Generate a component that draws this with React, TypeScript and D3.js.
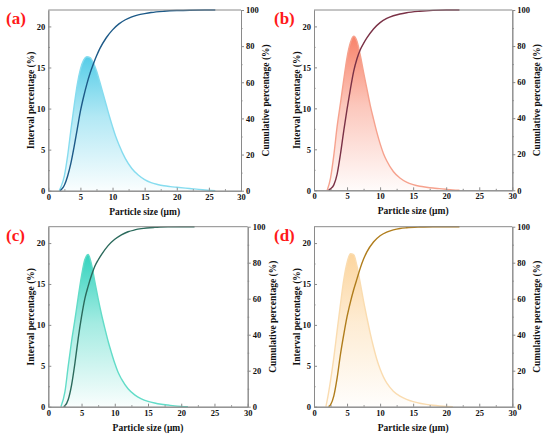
import * as React from 'react';
import * as d3 from 'd3';

type Pt = [number, number];

const panelNames = ['(a)', '(b)', '(c)', '(d)'];
const xTicks = [0, 5, 10, 15, 20, 25, 30];
const xMinor = [2.5, 7.5, 12.5, 17.5, 22.5, 27.5];
const yTicks = [0, 5, 10, 15, 20];
const yMinor = [2.5, 7.5, 12.5, 17.5];
const cumTicks = [0, 20, 40, 60, 80, 100];
const cumMinor = [10, 30, 50, 70, 90];

// interval percentage (%) vs particle size (µm)
const intervalA: Pt[] = [
  [1.7, 0], [2, 0.5], [2.5, 1.8], [3, 4.2], [3.5, 7.3], [4, 10.2], [4.5, 12.9], [5, 14.8],
  [5.5, 15.9], [6, 16.3], [6.5, 16.2], [7, 15.6], [7.5, 14.6], [8, 13.3], [8.5, 11.9],
  [9, 10.5], [9.5, 9.1], [10, 7.8], [10.5, 6.6], [11, 5.6], [12, 3.9], [13, 2.7], [14, 1.9],
  [15, 1.35], [16, 0.98], [17, 0.76], [18, 0.6], [19, 0.5], [20, 0.42], [22, 0.27], [24, 0.12], [26, 0],
];
const intervalB: Pt[] = [
  [2, 0], [2.5, 1.5], [3, 4.3], [3.5, 7.8], [4, 10.6], [4.5, 13.5], [5, 16.2], [5.5, 18.0],
  [6, 18.8], [6.5, 18.2], [7, 16.5], [7.5, 14.4], [8, 12.4], [8.5, 10.4], [9, 8.7], [9.5, 7.1],
  [10, 5.7], [10.5, 4.5], [11, 3.6], [12, 2.3], [13, 1.5], [14, 1.0], [15, 0.7], [16, 0.5],
  [17, 0.38], [18, 0.28], [19, 0.2], [20, 0.12], [21, 0.05], [22, 0],
];
const intervalC: Pt[] = [
  [1.9, 0], [2.5, 1.8], [3, 5.0], [3.5, 8.0], [4, 10.6], [4.5, 13.4], [5, 16.0], [5.5, 18.0],
  [6, 18.6], [6.5, 17.4], [7, 15.3], [7.5, 13.2], [8, 11.3], [8.5, 9.6], [9, 8.0], [9.5, 6.6],
  [10, 5.3], [10.5, 4.2], [11, 3.4], [12, 2.2], [13, 1.45], [14, 0.97], [15, 0.66], [16, 0.45],
  [17, 0.3], [18, 0.2], [19, 0.1], [20, 0.04], [21, 0],
];
const intervalD: Pt[] = [
  [1.8, 0], [2, 0.8], [2.5, 3.2], [3, 6.0], [3.5, 9.3], [4, 12.5], [4.5, 15.5], [5, 17.6],
  [5.5, 18.7], [6, 18.6], [6.5, 17.2], [7, 15.1], [7.5, 12.9], [8, 10.9], [8.5, 9.0], [9, 7.3],
  [9.5, 5.8], [10, 4.6], [10.5, 3.65], [11, 2.9], [12, 1.9], [13, 1.3], [14, 0.9], [15, 0.62],
  [16, 0.42], [17, 0.28], [18, 0.17], [19, 0.09], [20, 0.03], [21, 0],
];

// cumulative percentage (%)
const cumulativeA: Pt[] = [
  [1.8, 0], [2, 0.5], [2.5, 3], [3, 8], [3.5, 15], [4, 24], [4.5, 34], [5, 44], [5.5, 52],
  [6, 59], [6.5, 65], [7, 70], [7.5, 74.5], [8, 78.5], [9, 84.5], [10, 89], [11, 92.3],
  [12, 94.6], [13, 96.2], [14, 97.3], [15, 98], [16, 98.6], [18, 99.3], [20, 99.7], [22, 99.9], [26, 100],
];
const cumulativeB: Pt[] = [
  [2.2, 0], [2.5, 0.8], [3, 3], [3.5, 9], [4, 20], [4.5, 33], [5, 45], [5.5, 56], [6, 66],
  [6.5, 73], [7, 78], [7.5, 81.5], [8, 84.5], [9, 89.5], [10, 93], [11, 95.3], [12, 96.8],
  [13, 97.8], [14, 98.5], [16, 99.3], [18, 99.8], [20, 100], [22, 100],
];
const cumulativeC: Pt[] = [
  [2.3, 0], [2.5, 0.5], [3, 4], [3.5, 12], [4, 24], [4.5, 38], [5, 50], [5.5, 60], [6, 67],
  [6.5, 73], [7, 78], [7.5, 81.5], [8, 84.5], [9, 89.5], [10, 93], [11, 95.5], [12, 97.2],
  [13, 98.2], [14, 98.9], [16, 99.6], [18, 99.9], [20, 100], [22, 100],
];
const cumulativeD: Pt[] = [
  [2.2, 0], [2.5, 1], [3, 6], [3.5, 16], [4, 29], [4.5, 40], [5, 50], [5.5, 58], [6, 65],
  [6.5, 71], [7, 77], [7.5, 82], [8, 86], [9, 91.5], [10, 95], [11, 97], [12, 98.2],
  [13, 99], [14, 99.4], [16, 99.8], [18, 100], [22, 100],
];

const intervals = [intervalA, intervalB, intervalC, intervalD];
const cumulatives = [cumulativeA, cumulativeB, cumulativeC, cumulativeD];

// layout + colours per panel
const boxes = [
  { x0: 48.3, x1: 241, y0: 10, y1: 190.7, lx: 6, ly: 24 },
  { x0: 314, x1: 512.3, y0: 10, y1: 190.3, lx: 274, ly: 24 },
  { x0: 48.3, x1: 247.7, y0: 226.7, y1: 406.7, lx: 6, ly: 241 },
  { x0: 314, x1: 512.3, y0: 226.7, y1: 406.7, lx: 274, ly: 241 },
];
const fills = ['#56cde8', '#f8836a', '#34d3be', '#fcd59e'];
const outlines = ['#86dcef', '#f6a28e', '#62dcc8', '#fadcb0'];
const cumColors = ['#1d5a88', '#7a3146', '#2b6a5c', '#b07d1c'];

const font = '"Liberation Serif", "Times New Roman", serif';
const axisGray = '#8a8a8a';

export default function App() {
  const ref = React.useRef<SVGSVGElement>(null);

  React.useEffect(() => {
    const svg = d3.select(ref.current);
    svg.selectAll('*').remove();
    const defs = svg.append('defs');

    boxes.forEach((b, i) => {
      const x = d3.scaleLinear().domain([0, 30]).range([b.x0, b.x1]);
      const y = d3.scaleLinear().domain([0, 22]).range([b.y1, b.y0]);
      const yc = d3.scaleLinear().domain([0, 100]).range([b.y1, b.y0]);
      const g = svg.append('g');

      const grad = defs.append('linearGradient')
        .attr('id', `grad${i}`)
        .attr('x1', 0).attr('y1', 0).attr('x2', 0).attr('y2', 1);
      grad.append('stop').attr('offset', '0%').attr('stop-color', fills[i]).attr('stop-opacity', 1);
      grad.append('stop').attr('offset', '45%').attr('stop-color', fills[i]).attr('stop-opacity', 0.45);
      grad.append('stop').attr('offset', '100%').attr('stop-color', fills[i]).attr('stop-opacity', 0.03);

      const area = d3.area<Pt>()
        .x(d => x(d[0])).y0(y(0)).y1(d => y(d[1]))
        .curve(d3.curveMonotoneX);
      const line = d3.line<Pt>()
        .x(d => x(d[0])).y(d => y(d[1]))
        .curve(d3.curveMonotoneX);
      const cumLine = d3.line<Pt>()
        .x(d => x(d[0])).y(d => yc(d[1]))
        .curve(d3.curveMonotoneX);

      g.append('path').attr('d', area(intervals[i])).attr('fill', `url(#grad${i})`);
      g.append('path').attr('d', line(intervals[i]))
        .attr('fill', 'none').attr('stroke', outlines[i]).attr('stroke-width', 1.4);
      g.append('path').attr('d', cumLine(cumulatives[i]))
        .attr('fill', 'none').attr('stroke', cumColors[i]).attr('stroke-width', 1.4);

      // axes
      const styleAxis = (sel: d3.Selection<SVGGElement, unknown, null, undefined>) => {
        sel.attr('color', axisGray);
        sel.selectAll('text')
          .attr('fill', '#111')
          .attr('font-family', font)
          .attr('font-weight', 'bold')
          .attr('font-size', 8.5);
      };
      const bottom = g.append('g').attr('transform', `translate(0,${b.y1})`)
        .call(d3.axisBottom(x).tickValues(xTicks).tickSize(-3).tickSizeOuter(0).tickPadding(3));
      styleAxis(bottom);
      g.append('g').attr('transform', `translate(0,${b.y1})`).attr('color', axisGray)
        .call(d3.axisBottom(x).tickValues(xMinor).tickSize(-1.5).tickSizeOuter(0).tickFormat(() => ''));

      const left = g.append('g').attr('transform', `translate(${b.x0},0)`)
        .call(d3.axisLeft(y).tickValues(yTicks).tickSize(-3).tickSizeOuter(0).tickPadding(3));
      styleAxis(left);
      g.append('g').attr('transform', `translate(${b.x0},0)`).attr('color', axisGray)
        .call(d3.axisLeft(y).tickValues(yMinor).tickSize(-1.5).tickSizeOuter(0).tickFormat(() => ''));

      const right = g.append('g').attr('transform', `translate(${b.x1},0)`)
        .call(d3.axisRight(yc).tickValues(cumTicks).tickSize(3).tickSizeOuter(0).tickPadding(2));
      styleAxis(right);
      g.append('g').attr('transform', `translate(${b.x1},0)`).attr('color', axisGray)
        .call(d3.axisRight(yc).tickValues(cumMinor).tickSize(1.5).tickSizeOuter(0).tickFormat(() => ''));

      g.append('line')
        .attr('x1', b.x0).attr('x2', b.x1).attr('y1', b.y0).attr('y2', b.y0)
        .attr('stroke', axisGray).attr('stroke-width', 1);

      // titles
      const title = (sel: d3.Selection<SVGTextElement, unknown, null, undefined>) =>
        sel.attr('font-family', font).attr('font-weight', 'bold').attr('font-size', 9.5)
          .attr('fill', '#111').attr('text-anchor', 'middle');

      g.append('text')
        .attr('x', (b.x0 + b.x1) / 2).attr('y', b.y1 + 24)
        .text('Particle size (μm)')
        .call(title);
      const midY = (b.y0 + b.y1) / 2;
      g.append('text')
        .attr('transform', `translate(${b.x0 - 14},${midY}) rotate(-90)`)
        .text('Interval percentage (%)')
        .call(title);
      g.append('text')
        .attr('transform', `translate(${b.x1 + 28},${midY}) rotate(-90)`)
        .text('Cumulative percentage (%)')
        .call(title);

      g.append('text')
        .attr('x', b.lx).attr('y', b.ly)
        .attr('font-family', font).attr('font-weight', 'bold').attr('font-size', 17)
        .attr('fill', '#ff1a1a')
        .text(panelNames[i]);
    });
  }, []);

  return (
    <svg
      ref={ref}
      width={550}
      height={441}
      style={{ position: 'absolute', left: 0, top: 0, background: '#fff' }}
    />
  );
}
